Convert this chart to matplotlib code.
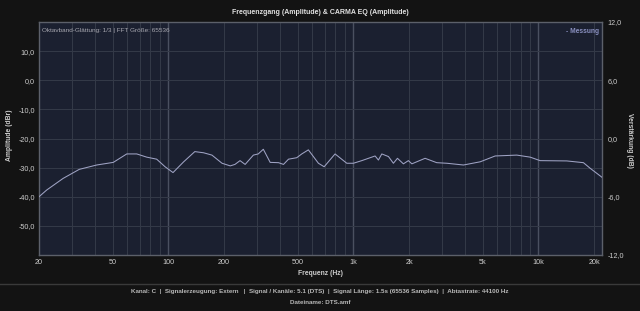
import numpy as np
import matplotlib
matplotlib.use('Agg')
from matplotlib import pyplot as plt
from matplotlib.ticker import FixedLocator, NullLocator

# Messkurve (Frequenz in Hz, Amplitude in dBr)
freq = [20, 22, 27, 33, 41, 50.4, 59.6, 67.5, 76.4, 86.5, 96, 106, 121, 139, 155,
        172, 195, 216, 229, 244, 260, 288, 306, 326, 355, 394, 419, 446, 494, 526,
        571, 647, 695, 796, 921, 1000, 1110, 1310, 1365, 1424, 1547, 1645, 1730,
        1863, 1982, 2070, 2440, 2820, 3200, 3935, 4845, 5835, 7640, 9020, 10210,
        14230, 17500, 19010, 22030]
ampl = [-40.0, -37.7, -33.7, -30.6, -29.1, -28.2, -25.3, -25.3, -26.4, -27.1, -29.7,
        -31.7, -28.0, -24.5, -24.9, -25.7, -28.5, -29.4, -28.9, -27.6, -28.9, -25.7,
        -25.3, -23.7, -28.2, -28.3, -28.9, -27.1, -26.6, -25.3, -23.9, -28.5, -29.7,
        -25.3, -28.5, -28.5, -27.6, -26.0, -27.4, -25.3, -26.2, -28.5, -26.8, -28.7,
        -27.6, -28.7, -26.8, -28.3, -28.5, -29.1, -28.0, -26.0, -25.7, -26.4, -27.6,
        -27.7, -28.3, -30.2, -33.3]

xticks = [20, 50, 100, 200, 500, 1000, 2000, 5000, 10000, 20000]
xticklabels = ['20', '50', '100', '200', '500', '1k', '2k', '5k', '10k', '20k']
left_ticks = [10, 0, -10, -20, -30, -40, -50]
right_ticks = [12, 6, 0, -6, -12]

fig_bg = '#131313'
ax_bg = '#1b2030'
txt = '#cccccc'
grid_c = '#343a48'
grid_major = '#4a5060'
line_c = '#9fa3c4'

plt.rcParams['font.family'] = ['Liberation Sans', 'DejaVu Sans']
fig = plt.figure(figsize=(6.4, 3.11), dpi=100, facecolor=fig_bg)
ax = fig.add_axes([39 / 640, 1 - 255 / 311, (602 - 39) / 640, (255 - 22) / 311])
ax.set_facecolor(ax_bg)

ax.set_xscale('log')
ax.set_xlim(20, 22050)
ax.set_ylim(-60, 20)

# Gitter
minor_f = []
for dec in [10, 100, 1000, 10000]:
    for m in range(2, 10):
        f = dec * m
        if 20 <= f <= 22050:
            minor_f.append(f)
for f in minor_f:
    ax.axvline(f, color=grid_c, lw=0.7, zorder=1)
for f in [100, 1000, 10000]:
    ax.axvline(f, color=grid_major, lw=1.0, zorder=1)
for y in range(-50, 20, 10):
    ax.axhline(y, color=grid_c, lw=0.7, zorder=1)

ax.plot(freq, ampl, color=line_c, lw=0.75, zorder=3)

ax.xaxis.set_major_locator(FixedLocator(xticks))
ax.set_xticklabels(xticklabels)
ax.xaxis.set_minor_locator(NullLocator())
ax.set_yticks(left_ticks)
ax.set_yticklabels([('%.1f' % v).replace('.', ',') for v in left_ticks])
ax.tick_params(colors=txt, labelsize=5.2, length=0, pad=3)
for s in ax.spines.values():
    s.set_color('#5c606a')
    s.set_linewidth(1.0)

ax2 = ax.twinx()
ax2.set_ylim(-12, 12)
ax2.set_yticks(right_ticks)
ax2.set_yticklabels([('%.1f' % v).replace('.', ',') for v in right_ticks])
ax2.tick_params(colors=txt, labelsize=5.2, length=0, pad=4)
for s in ax2.spines.values():
    s.set_visible(False)

ax.set_xlabel('Frequenz (Hz)', color=txt, fontsize=4.9, fontweight='bold')
ax.xaxis.set_label_coords(0.5, -(270 - 255) / 233)
fig.text(10 / 640, 1 - 135 / 311, 'Amplitude (dBr)', color=txt, fontsize=4.9,
         fontweight='bold', rotation=90, ha='center', va='center')
fig.text(630 / 640, 1 - 140 / 311, 'Verstärkung (dB)', color=txt, fontsize=4.9,
         fontweight='bold', rotation=270, ha='center', va='center')

fig.text(0.5, 1 - 12 / 311, 'Frequenzgang (Amplitude) & CARMA EQ (Amplitude)',
         ha='center', va='center', color='#e0e0e0', fontsize=5.0, fontweight='bold')
ax.text(0.006, 0.975, 'Oktavband-Glättung: 1/3 | FFT Größe: 65536',
        transform=ax.transAxes, ha='left', va='top', color='#a8a8b0', fontsize=4.6)
ax.text(0.995, 0.975, '- Messung', transform=ax.transAxes, ha='right', va='top',
        color='#8a90c0', fontsize=4.8, fontweight='bold')

fig.add_artist(plt.Line2D([0, 1], [1 - 283.5 / 311] * 2, color='#3a3a3a', lw=1.0))
fig.text(0.5, 1 - 291.5 / 311,
         'Kanal: C  |  Signalerzeugung: Extern   |  Signal / Kanäle: 5.1 (DTS)  |  '
         'Signal Länge: 1.5s (65536 Samples)  |  Abtastrate: 44100 Hz',
         ha='center', va='center', color='#b8b8b8', fontsize=4.5, fontweight='bold')
fig.text(0.5, 1 - 302 / 311, 'Dateiname: DTS.amf', ha='center', va='center',
         color='#b8b8b8', fontsize=4.5, fontweight='bold')

fig.savefig('out.png', dpi=100, facecolor=fig_bg)
